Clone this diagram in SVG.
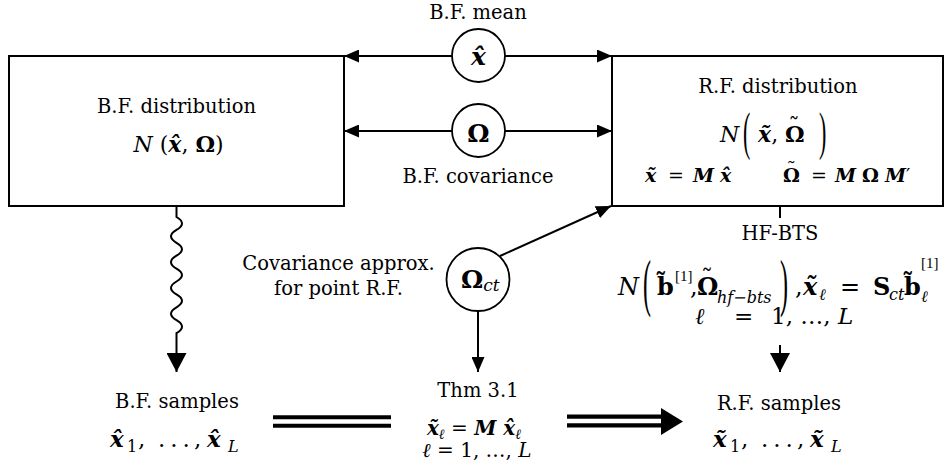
<svg xmlns="http://www.w3.org/2000/svg" width="946" height="468" viewBox="0 0 946 468">
<defs>
<style>
text { font-family: "DejaVu Serif", "Liberation Serif", serif; fill: #000; }
.lbl { font-size: 19.5px; }
.it { font-style: italic; }
.bf { font-weight: bold; }
.bi { font-style: italic; font-weight: bold; }
.par { font-family: "Liberation Serif", "DejaVu Serif", serif; }
.box { fill: #fff; stroke: #000; stroke-width: 2; }
.circ { fill: #fff; stroke: #000; stroke-width: 1.8; }
.ln { fill: none; stroke: #000; stroke-width: 2; }
</style>
<marker id="ah" viewBox="0 0 15 13" refX="15" refY="6.5" markerWidth="15" markerHeight="13" markerUnits="userSpaceOnUse" orient="auto"><path d="M0,0 L15,6.5 L0,13 z" fill="#000"/></marker>
<marker id="ahL" viewBox="0 0 19 20" refX="19" refY="10" markerWidth="19" markerHeight="20" markerUnits="userSpaceOnUse" orient="auto"><path d="M0,0 L19,10 L0,20 z" fill="#000"/></marker>
</defs>
<rect width="946" height="468" fill="#fff"/>

<g id="connectors">
  <line class="ln" x1="452" y1="56" x2="344" y2="56" marker-end="url(#ah)"/>
  <line class="ln" x1="505" y1="56" x2="612" y2="56" marker-end="url(#ah)"/>
  <line class="ln" x1="452" y1="131" x2="344" y2="131" marker-end="url(#ah)"/>
  <line class="ln" x1="505" y1="131" x2="612" y2="131" marker-end="url(#ah)"/>
  <line class="ln" x1="500" y1="256" x2="611" y2="206" marker-end="url(#ah)"/>
  <line class="ln" x1="478" y1="311" x2="478" y2="372" marker-end="url(#ah)"/>
  <path class="ln" d="M176.5,206 V217 q11,6.45 0,12.9 t0,12.9 t0,12.9 t0,12.9 t0,12.9 t0,12.9 t0,12.9 t0,12.9 t0,12.9 V372" marker-end="url(#ahL)"/>
  <line class="ln" x1="780" y1="206" x2="780" y2="218"/>
  <line class="ln" x1="780" y1="345" x2="780" y2="372" marker-end="url(#ahL)"/>
  <g id="eq-link">
    <line x1="273" y1="421.5" x2="391" y2="421.5" stroke="#000" stroke-width="12.7"/>
    <line x1="273" y1="421.5" x2="391" y2="421.5" stroke="#fff" stroke-width="4.3"/>
  </g>
  <g id="implies-link">
    <line x1="567" y1="421" x2="662" y2="421" stroke="#000" stroke-width="13"/>
    <line x1="567" y1="421" x2="662" y2="421" stroke="#fff" stroke-width="4.3"/>
    <polygon points="661,408 683,421.5 661,435" fill="#000"/>
  </g>
</g>

<g id="bf-dist">
  <rect class="box" x="9" y="56" width="335" height="150"/>
  <text class="lbl" x="176.5" y="113" text-anchor="middle">B.F. distribution</text>
  <text x="178.5" y="152" text-anchor="middle" font-size="22"><tspan class="it">N</tspan> (<tspan class="bi">x̂</tspan>, <tspan class="bf">Ω</tspan>)</text>
</g>

<g id="rf-dist">
  <rect class="box" x="612" y="56" width="331" height="150"/>
  <text class="lbl" x="778" y="93" text-anchor="middle">R.F. distribution</text>
  <text y="142" font-size="22"><tspan x="720" class="it">N</tspan><tspan x="758" class="bi">x̃</tspan><tspan>,</tspan><tspan x="785" class="bf">Ω</tspan><tspan x="788.5" y="134">˜</tspan></text>
  <text class="par" transform="translate(743,148.6) scale(1,2.4)" font-size="22">(</text>
  <text class="par" transform="translate(819,148.6) scale(1,2.4)" font-size="22">)</text>
  <text y="182" font-size="19"><tspan x="645" class="bi">x̃</tspan><tspan x="668">=</tspan><tspan x="693" class="bi">M</tspan><tspan x="720" class="bi">x̂</tspan><tspan x="783" class="bf">Ω</tspan><tspan x="786.5" y="175">˜</tspan><tspan x="811" y="182">=</tspan><tspan x="835" class="bi">M</tspan><tspan x="862" class="bf">Ω</tspan><tspan x="885" class="bi">M</tspan><tspan>′</tspan></text>
</g>

<g id="bf-mean">
  <text class="lbl" x="478" y="19" text-anchor="middle">B.F. mean</text>
  <circle class="circ" cx="478.5" cy="55.5" r="26.5"/>
  <text x="478.5" y="65" text-anchor="middle" font-size="25" class="bi">x̂</text>
</g>

<g id="bf-cov">
  <circle class="circ" cx="478.5" cy="130.5" r="26.5"/>
  <text x="478.5" y="142" text-anchor="middle" font-size="25" class="bf">Ω</text>
  <text class="lbl" x="478" y="183" text-anchor="middle">B.F. covariance</text>
</g>

<g id="cov-approx">
  <text class="lbl" x="338.5" y="270" text-anchor="middle">Covariance approx.</text>
  <text class="lbl" x="338.5" y="295" text-anchor="middle">for point R.F.</text>
  <circle class="circ" cx="478" cy="279.5" r="31.5"/>
  <text y="288" font-size="25"><tspan x="461" class="bf">Ω</tspan><tspan y="291" font-size="17" class="it">ct</tspan></text>
</g>

<g id="hf-bts">
  <text class="lbl" x="780" y="240" text-anchor="middle">HF-BTS</text>
  <text y="295" font-size="24"><tspan x="618" class="it">N</tspan><tspan x="657" class="bf">b̃</tspan><tspan x="675" y="281" font-size="15" class="par">[1]</tspan><tspan x="690" y="295">,</tspan><tspan x="697" class="bf">Ω</tspan><tspan x="701" y="287">˜</tspan><tspan x="717" y="303" font-size="16" class="it">hf−bts</tspan><tspan x="795" y="295">,</tspan><tspan x="803" class="bi">x̃</tspan><tspan x="819" y="300" font-size="16" class="it">ℓ</tspan><tspan x="840" y="295">=</tspan><tspan x="873" class="bf">S</tspan><tspan x="889" y="300" font-size="16" class="it">ct</tspan><tspan x="904" y="295" class="bf">b̃</tspan><tspan x="921" y="268" font-size="15" class="par">[1]</tspan><tspan x="921" y="302" font-size="16" class="it">ℓ</tspan></text>
  <text class="par" transform="translate(643,304) scale(1,2.6)" font-size="24">(</text>
  <text class="par" transform="translate(780,304) scale(1,2.6)" font-size="24">)</text>
  <text y="324" font-size="23"><tspan x="695" class="it">ℓ</tspan><tspan x="734">=</tspan><tspan x="771">1, …, </tspan><tspan class="it">L</tspan></text>
</g>

<g id="bf-samples">
  <text class="lbl" x="177" y="408" text-anchor="middle">B.F. samples</text>
  <text y="447" font-size="23"><tspan x="110" class="bi">x̂</tspan><tspan x="127" y="452" font-size="16">1</tspan><tspan x="138" y="447">,</tspan><tspan x="158" letter-spacing="5">...</tspan><tspan x="194">,</tspan><tspan x="207" class="bi">x̂</tspan><tspan x="228" y="452" font-size="16" class="it">L</tspan></text>
</g>

<g id="thm">
  <text class="lbl" x="478" y="397" text-anchor="middle">Thm 3.1</text>
  <text x="474" y="435" text-anchor="middle" font-size="20"><tspan class="bi">x̃</tspan><tspan class="it" font-size="14" dy="4">ℓ</tspan><tspan dy="-4"> = </tspan><tspan class="bi">M x̂</tspan><tspan class="it" font-size="14" dy="4">ℓ</tspan></text>
  <text x="477" y="457" text-anchor="middle" font-size="20"><tspan class="it">ℓ</tspan> = 1, …, <tspan class="it">L</tspan></text>
</g>

<g id="rf-samples">
  <text class="lbl" x="779" y="410" text-anchor="middle">R.F. samples</text>
  <text y="447" font-size="23"><tspan x="713" class="bi">x̃</tspan><tspan x="730" y="452" font-size="16">1</tspan><tspan x="741" y="447">,</tspan><tspan x="761" letter-spacing="5">...</tspan><tspan x="797">,</tspan><tspan x="810" class="bi">x̃</tspan><tspan x="831" y="452" font-size="16" class="it">L</tspan></text>
</g>
</svg>
